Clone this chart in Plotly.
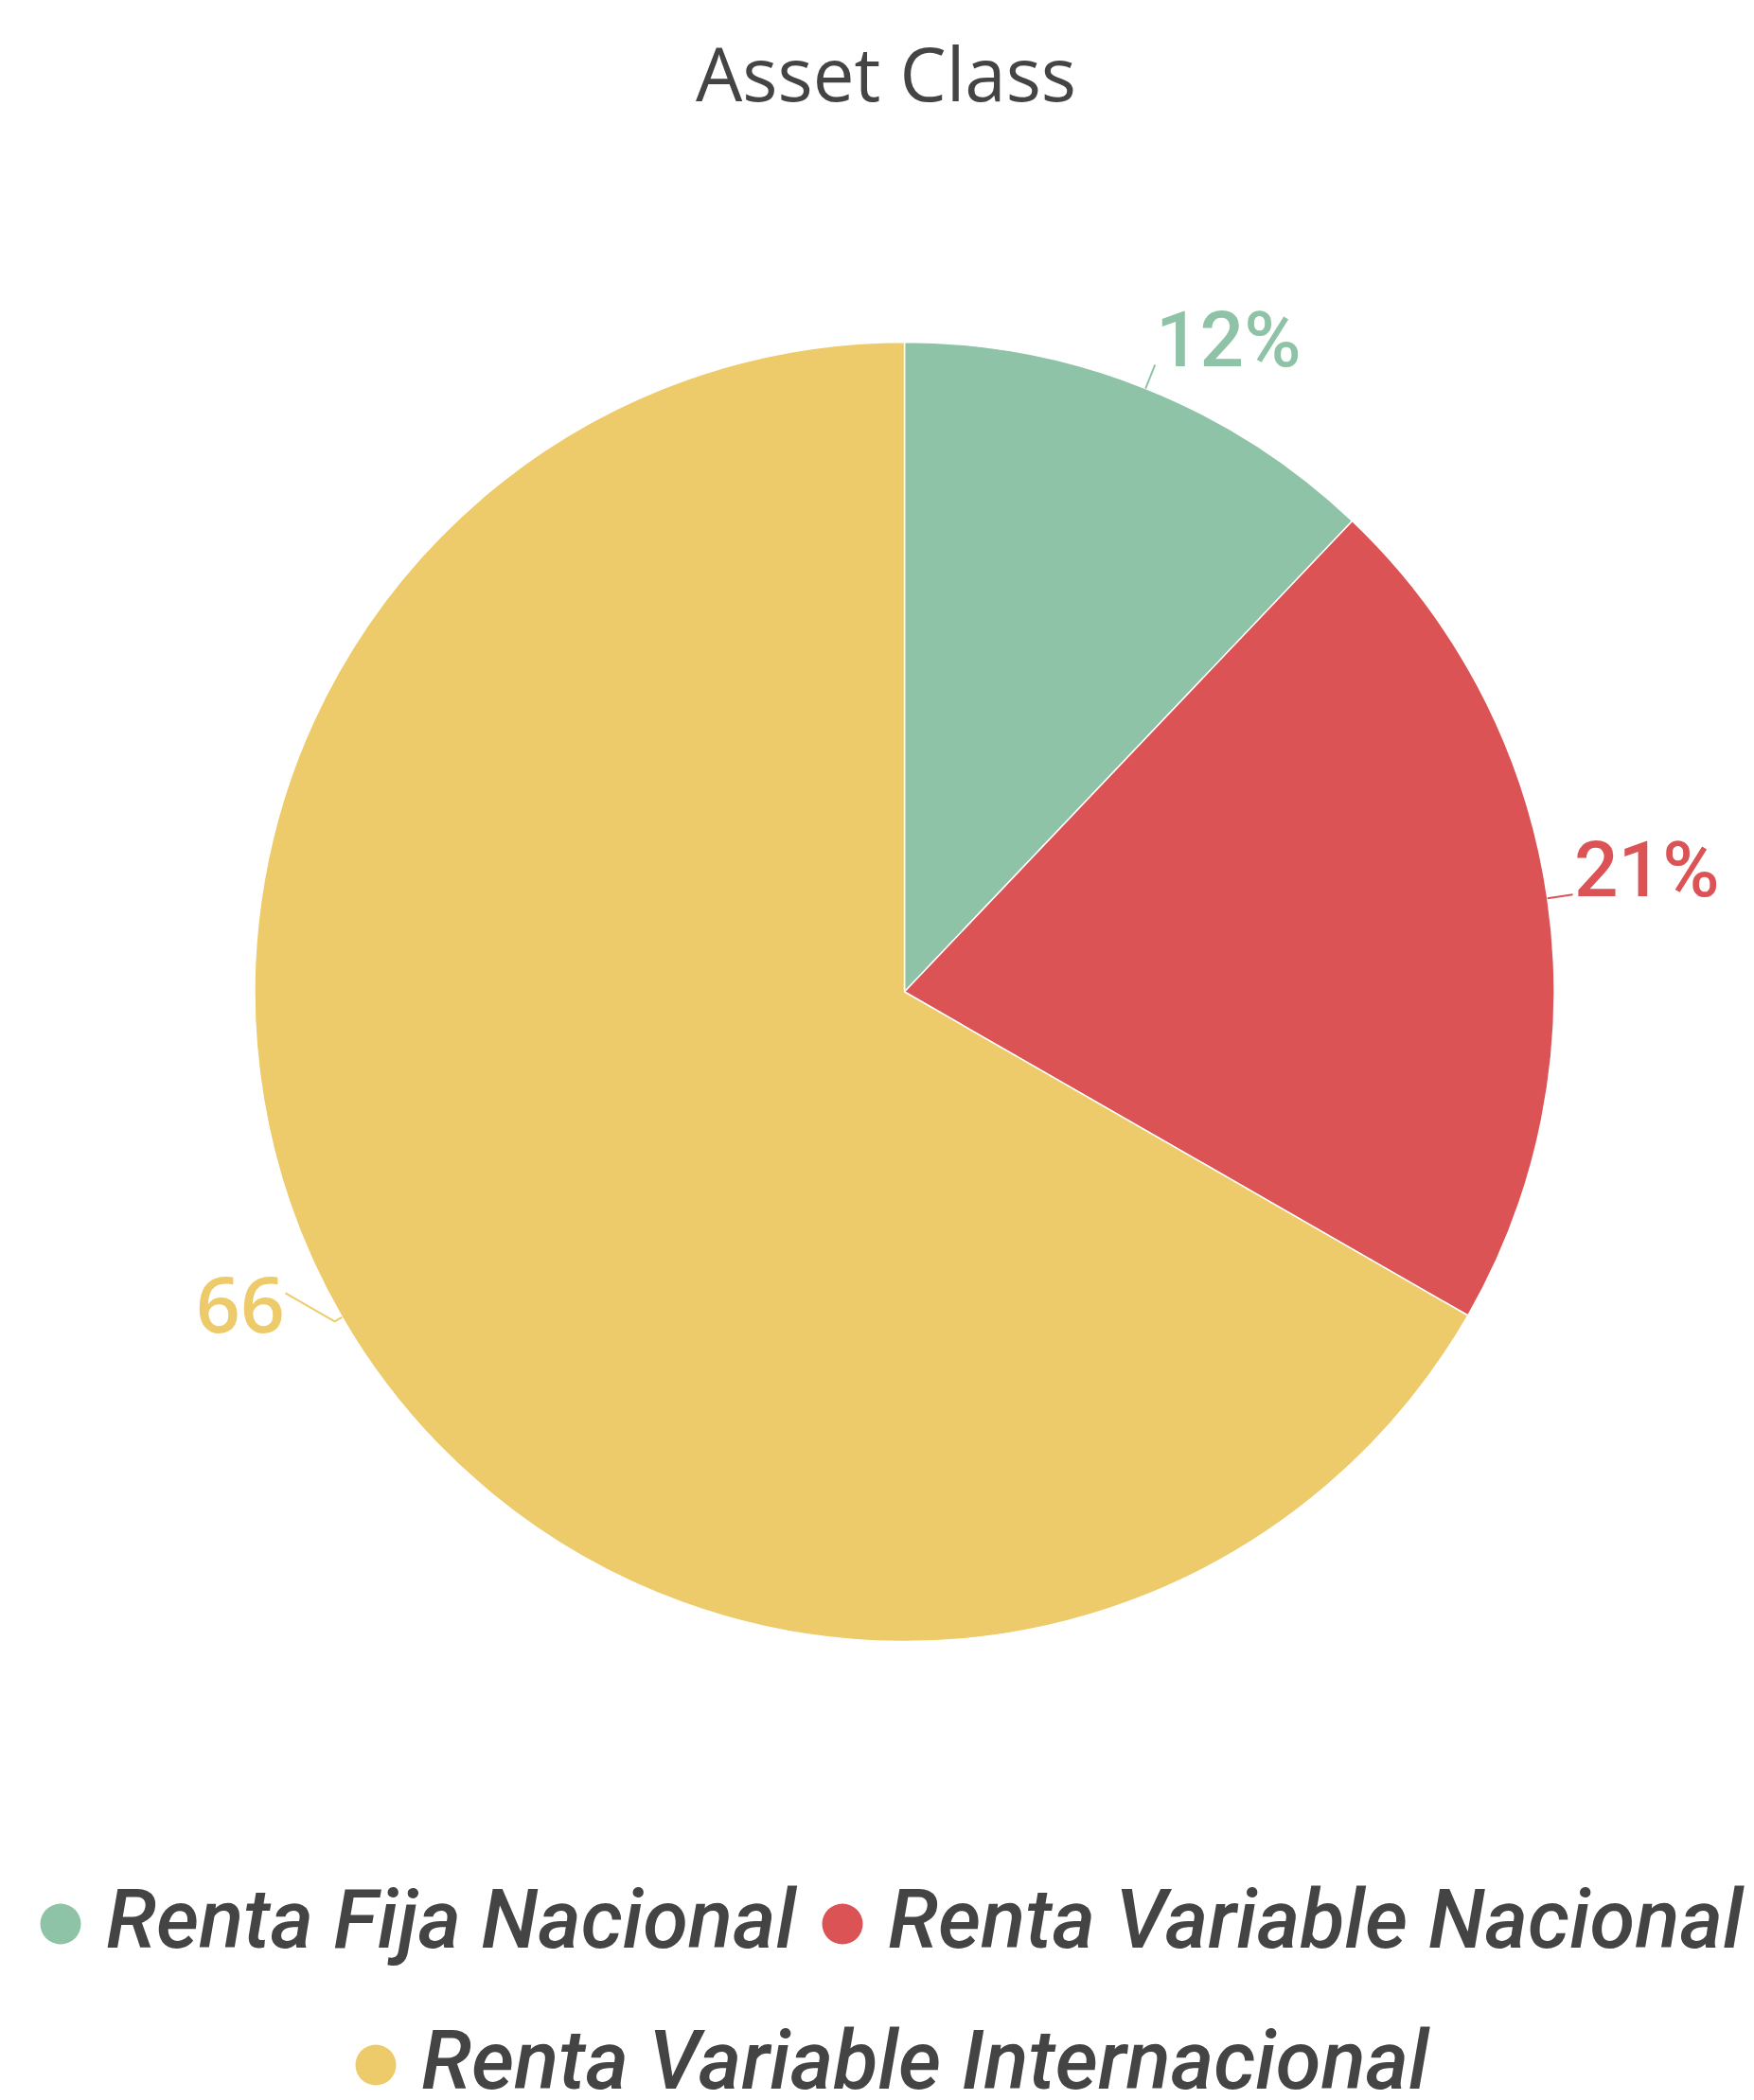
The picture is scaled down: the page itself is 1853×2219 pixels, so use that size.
import math
import plotly.graph_objects as go

# ---------------- data ----------------
categories = ["Renta Fija Nacional", "Renta Variable Nacional", "Renta Variable Internacional"]
values = [12.1, 21.2, 66.7]
label_texts = ["12%", "21%", "66"]
colors = ["#8FC3A7", "#DC5356", "#EECB6A"]
title_text = "Asset Class"

# ---------------- layout constants (pixels) ----------------
W, H = 1853, 2219
CX, CY, R = 955.5, 1048.0, 686.5
CONN_LEN = 27          # connector length (right side)
LEFT_BREAK = 9         # break distance (left side)
LEFT_SHIFT = (-52, -30)
TEXT_GAP = -1
LABEL_SIZE = 82

def px(x):
    return x / W

def py(y):
    return 1 - y / H

fig = go.Figure()
fig.add_trace(go.Pie(
    labels=categories,
    values=values,
    sort=False,
    direction="clockwise",
    rotation=0,
    textinfo="none",
    hoverinfo="label+percent",
    marker=dict(colors=colors, line=dict(color="#FFFFFF", width=1.5)),
    domain=dict(x=[px(CX - R), px(CX + R)], y=[py(CY + R), py(CY - R)]),
    showlegend=False,
))

shapes = []
annotations = []

total = sum(values)
cum = 0.0
for lab, v, col in zip(label_texts, values, colors):
    mid = (cum + v / 2) / total * 2 * math.pi
    cum += v
    ux, uy = math.sin(mid), -math.cos(mid)
    ex, ey = CX + R * ux, CY + R * uy
    if ux >= 0:
        ax, ay = CX + (R + CONN_LEN) * ux, CY + (R + CONN_LEN) * uy
        path = f"M {px(ex)},{py(ey)} L {px(ax)},{py(ay)}"
        annotations.append(dict(
            text=lab, x=px(ax + TEXT_GAP), y=py(ay - 26), xref="paper", yref="paper",
            xanchor="left", yanchor="middle", showarrow=False,
            font=dict(family="Roboto", size=LABEL_SIZE, color=col, weight=500),
        ))
    else:
        bx, by = CX + (R + LEFT_BREAK) * ux, CY + (R + LEFT_BREAK) * uy
        ax, ay = bx + LEFT_SHIFT[0], by + LEFT_SHIFT[1]
        path = f"M {px(ex)},{py(ey)} L {px(bx)},{py(by)} L {px(ax)},{py(ay)}"
        annotations.append(dict(
            text=lab, x=px(ax + 1), y=py(ay + 10), xref="paper", yref="paper",
            xanchor="right", yanchor="middle", showarrow=False,
            font=dict(family="Open Sans", size=LABEL_SIZE, color=col, weight=600),
        ))
    shapes.append(dict(type="path", path=path, xref="paper", yref="paper",
                       line=dict(color=col, width=2)))

# title
annotations.append(dict(
    text=title_text, x=px(936), y=py(77), xref="paper", yref="paper",
    xanchor="center", yanchor="middle", showarrow=False,
    font=dict(family="Open Sans", size=78, color="#444444"),
))

# legend (manual, circle markers)
legend_pos = [(64, 2033), (890, 2033), (397, 2182)]
MARK_D = 43
for name, col, (mx, my) in zip(categories, colors, legend_pos):
    shapes.append(dict(type="circle", xref="paper", yref="paper",
                       x0=px(mx - MARK_D / 2), x1=px(mx + MARK_D / 2),
                       y0=py(my + MARK_D / 2), y1=py(my - MARK_D / 2),
                       fillcolor=col, line=dict(width=0)))
    annotations.append(dict(
        text=name, x=px(mx + 46), y=py(my - 5), xref="paper", yref="paper",
        xanchor="left", yanchor="middle", showarrow=False,
        font=dict(family="Roboto", size=87, color="#444444", style="italic", weight=500),
    ))

fig.update_layout(
    width=W, height=H,
    margin=dict(l=0, r=0, t=0, b=0),
    paper_bgcolor="#FFFFFF",
    plot_bgcolor="#FFFFFF",
    shapes=shapes,
    annotations=annotations,
)

fig.write_html("out.html", config={"displayModeBar": False},
               post_script="document.body.style.margin='0';")
